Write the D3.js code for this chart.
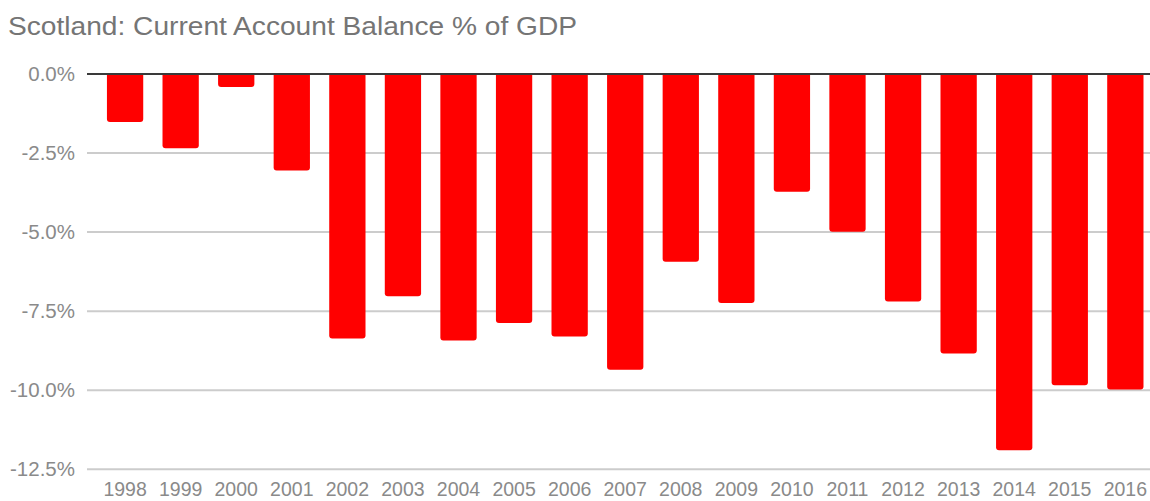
<!DOCTYPE html>
<html>
<head>
<meta charset="utf-8">
<title>Scotland: Current Account Balance % of GDP</title>
<script src="https://cdn.jsdelivr.net/npm/d3@7"></script>
<style>
  body { margin: 0; background: #fff; }
  svg text { font-family: "Liberation Sans", Arial, sans-serif; }
</style>
</head>
<body>
<script>
  // data
  var years = ['1998', '1999', '2000', '2001', '2002', '2003', '2004', '2005', '2006', '2007',
               '2008', '2009', '2010', '2011', '2012', '2013', '2014', '2015', '2016'];
  var balance = [-1.52, -2.35, -0.41, -3.05, -8.36, -7.03, -8.43, -7.87, -8.30, -9.35,
                 -5.94, -7.24, -3.72, -4.99, -7.19, -8.84, -11.9, -9.84, -9.98];
  var yTicks = [0, -2.5, -5, -7.5, -10, -12.5];

  var width = 1150, height = 501;

  var svg = d3.select('body').append('svg')
    .attr('width', width)
    .attr('height', height);

  svg.append('text')
    .attr('x', 8)
    .attr('y', 34.5)
    .attr('fill', '#757575')
    .attr('font-size', '25px')
    .attr('textLength', 569)
    .attr('lengthAdjust', 'spacingAndGlyphs')
    .text('Scotland: Current Account Balance % of GDP');

  var x = d3.scaleBand()
    .domain(years)
    .range([97.3, 97.3 + 55.57 * years.length])
    .paddingInner(0.347)
    .paddingOuter(0.1735);

  var y = d3.scaleLinear()
    .domain([0, -12.5])
    .range([74, 469.3]);

  // grid lines
  svg.append('g')
    .selectAll('line')
    .data(yTicks.filter(function(d) { return d !== 0; }))
    .enter().append('line')
    .attr('x1', 87)
    .attr('x2', width)
    .attr('y1', function(d) { return y(d); })
    .attr('y2', function(d) { return y(d); })
    .attr('stroke', '#cccccc')
    .attr('stroke-width', 2);

  // y tick labels
  svg.append('g')
    .selectAll('text')
    .data(yTicks)
    .enter().append('text')
    .attr('x', 75)
    .attr('y', function(d) { return y(d); })
    .attr('dy', '0.35em')
    .attr('text-anchor', 'end')
    .attr('fill', '#8a8a8a')
    .attr('font-size', '20.5px')
    .text(function(d) { return d3.format('.1f')(d).replace('−', '-') + '%'; });

  // bars: flat top at zero, slightly rounded bottom
  var r = 3;
  svg.append('g')
    .selectAll('path')
    .data(balance)
    .enter().append('path')
    .attr('fill', '#ff0000')
    .attr('d', function(d, i) {
      var x0 = x(years[i]), w = x.bandwidth();
      var y0 = y(0), y1 = y(d);
      var rr = Math.min(r, (y1 - y0) / 2);
      return 'M' + x0 + ',' + y0 +
        'H' + (x0 + w) +
        'V' + (y1 - rr) +
        'Q' + (x0 + w) + ',' + y1 + ' ' + (x0 + w - rr) + ',' + y1 +
        'H' + (x0 + rr) +
        'Q' + x0 + ',' + y1 + ' ' + x0 + ',' + (y1 - rr) +
        'Z';
    });

  // zero line
  svg.append('line')
    .attr('x1', 87)
    .attr('x2', width)
    .attr('y1', y(0))
    .attr('y2', y(0))
    .attr('stroke', '#3a3a3a')
    .attr('stroke-width', 2);

  // year labels
  svg.append('g')
    .selectAll('text')
    .data(years)
    .enter().append('text')
    .attr('x', function(d) { return x(d) + x.bandwidth() / 2; })
    .attr('y', 496)
    .attr('text-anchor', 'middle')
    .attr('fill', '#8a8a8a')
    .attr('font-size', '19.5px')
    .text(function(d) { return d; });
</script>
</body>
</html>
